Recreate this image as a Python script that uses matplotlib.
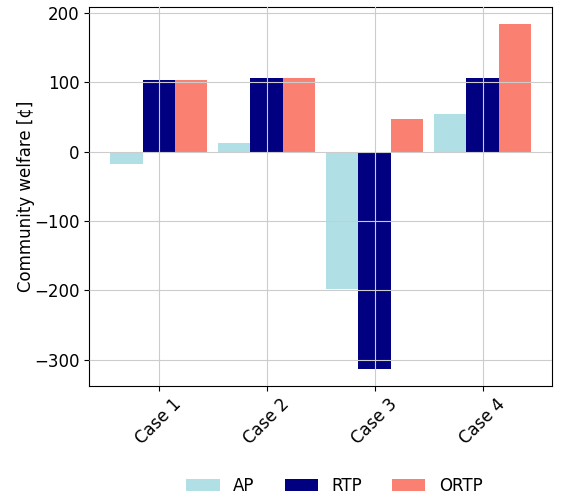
import numpy as np
import matplotlib
matplotlib.use("Agg")
import matplotlib.pyplot as plt

cases = ["Case 1", "Case 2", "Case 3", "Case 4"]
ap = [-18, 13, -198, 55]
rtp = [104, 106, -313, 106]
ortp = [104, 106, 47, 184]

x = np.arange(1, len(cases) + 1)
w = 0.3

fig, ax = plt.subplots(figsize=(5.64, 4.96), dpi=100)
ax.bar(x - w, ap, w, color="powderblue", label="AP")
ax.bar(x, rtp, w, color="navy", label="RTP")
ax.bar(x + w, ortp, w, color="salmon", label="ORTP")

ax.set_axisbelow(False)
ax.grid(True, color="#cccccc", linewidth=0.8)
ax.set_xticks(x)
ax.set_xticklabels(cases, rotation=45, fontsize=12)
ax.tick_params(axis="y", labelsize=12)
ax.set_ylabel("Community welfare [¢]", fontsize=12, labelpad=-1)

fig.legend(loc="center", bbox_to_anchor=(0.593, 0.02), ncol=3,
           frameon=False, fontsize=12, handlelength=2.0, columnspacing=1.8)

fig.subplots_adjust(left=0.158, right=0.979, top=0.986, bottom=0.222)
fig.savefig("out.png")
